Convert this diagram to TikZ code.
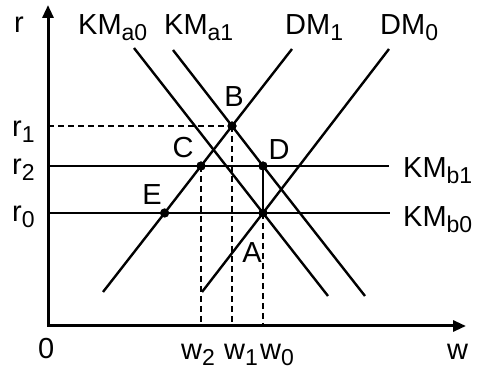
\documentclass[tikz,border=0pt]{standalone}
\usepackage{fontspec}
\setmainfont{Liberation Sans}
\usetikzlibrary{arrows.meta}
\newcommand{\lsb}[1]{\raisebox{-6pt}{\fontsize{23}{23}\selectfont #1}}
\begin{document}
\begin{tikzpicture}[x=1pt,y=1pt,
  lbl/.style={inner sep=0pt, font=\fontsize{29}{31}\selectfont, anchor=base west},
  ptl/.style={inner sep=0pt, font=\fontsize{29}{31}\selectfont},
  axisline/.style={line width=3pt, line join=miter, {Triangle[length=13pt,width=11pt]}-{Triangle[length=13pt,width=11pt]}},
  curve/.style={line width=2.4pt},
  guide/.style={line width=1.2pt, dash pattern=on 6pt off 4pt},
  dot/.style={circle, fill=black, inner sep=0pt, minimum size=9pt}]
\useasboundingbox (0,0) rectangle (477,372);
% axes
\coordinate (O) at (48,46);
\coordinate (ytop) at (48,367);
\coordinate (xend) at (466,46);
\draw[axisline] (ytop) -- (O) -- (xend);
% key points
\node[dot] (B) at (232,246) {};
\node[dot] (C) at (201,206) {};
\node[dot] (D) at (263,206) {};
\node[dot] (A) at (263,159) {};
\node[dot] (E) at (164.6,159) {};
% line end points
\coordinate (ka0t) at (134,324); \coordinate (ka0b) at (328,76);
\coordinate (ka1t) at (173,322); \coordinate (ka1b) at (365,76);
\coordinate (dm1t) at (292,323); \coordinate (dm1b) at (103,80);
\coordinate (dm0t) at (389,323); \coordinate (dm0b) at (202,80);
\coordinate (r1a) at (48,246);
\coordinate (r2a) at (48,206); \coordinate (kb1e) at (389,206);
\coordinate (r0a) at (48,159); \coordinate (kb0e) at (390,159);
\coordinate (w2f) at (201,46);
\coordinate (w1f) at (232,46);
\coordinate (w0f) at (263,46);
% curves
\draw[curve] (ka0t) -- (A.center) -- (ka0b);
\draw[curve] (ka1t) -- (B.center) -- (D.center) -- (ka1b);
\draw[curve] (dm1t) -- (B.center) -- (C.center) -- (E.center) -- (dm1b);
\draw[curve] (dm0t) -- (A.center) -- (dm0b);
\draw[curve] (r2a) -- (C.center) -- (D.center) -- (kb1e);
\draw[curve] (r0a) -- (E.center) -- (A.center) -- (kb0e);
\draw[curve] (D.center) -- (A.center);
% guides
\draw[guide] (r1a) -- (B.center);
\draw[guide] (B.center) -- (w1f);
\draw[guide] (C.center) -- (w2f);
\draw[guide] (A.center) -- (w0f);
% redraw dots on top
\foreach \p in {A,B,C,D,E} \fill (\p.center) circle (4.5pt);
% labels
\node[lbl] (lr) at (14,339) {r};
\node[lbl] (lka0) at (78,337) {KM\lsb{a0}};
\node[lbl] (lka1) at (164,337) {KM\lsb{a1}};
\node[lbl] (ldm1) at (285,337) {DM\lsb{1}};
\node[lbl] (ldm0) at (380,337) {DM\lsb{0}};
\node[lbl] (lkb1) at (403,194) {KM\lsb{b1}};
\node[lbl] (lkb0) at (403,145) {KM\lsb{b0}};
\node[lbl] (lr1) at (12,235) {r\lsb{1}};
\node[lbl] (lr2) at (12,197) {r\lsb{2}};
\node[lbl] (lr0) at (12,150) {r\lsb{0}};
\node[lbl] (l0) at (38,13) {0};
\node[lbl] (lw2) at (181,12) {w\lsb{2}};
\node[lbl] (lw1) at (224,12) {w\lsb{1}};
\node[lbl] (lw0) at (260,12) {w\lsb{0}};
\node[lbl] (lw) at (447,12) {w};
\node[ptl] (lB) at (234,275) {B};
\node[ptl] (lC) at (183,224) {C};
\node[ptl] (lD) at (279,222) {D};
\node[ptl] (lE) at (152,177) {E};
\node[ptl] (lA) at (252,119) {A};
\end{tikzpicture}
\end{document}
